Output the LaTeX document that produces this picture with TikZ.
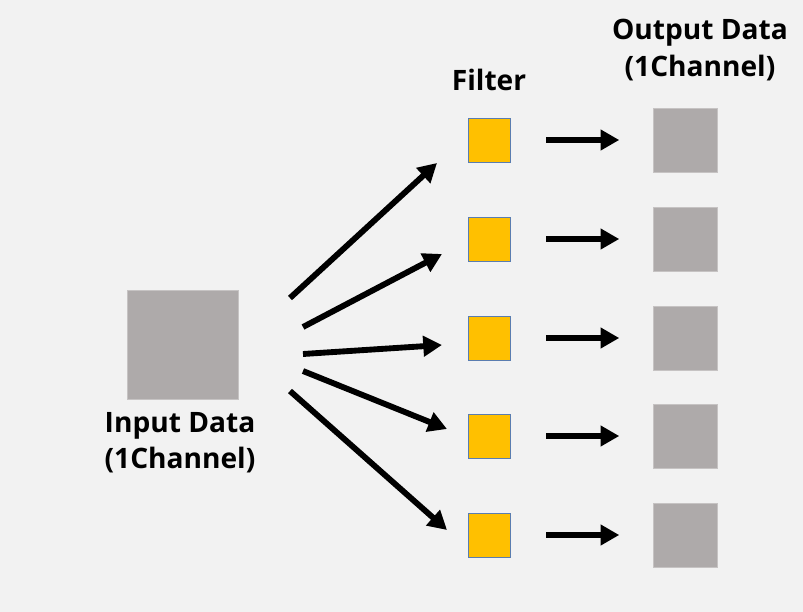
\documentclass[tikz,border=0pt]{standalone}
\usepackage{fontspec}
\setmainfont{Open Sans}
\usetikzlibrary{arrows.meta,positioning}
\definecolor{bgray}{HTML}{F2F2F2}
\definecolor{dgray}{HTML}{AEAAAA}
\definecolor{fyellow}{HTML}{FFC000}
\definecolor{fblue}{HTML}{5A7DB0}

\begin{document}
\begin{tikzpicture}[x=0.03cm,y=-0.03cm,
  datbox/.style={fill=dgray,draw=dgray!70!white,thin,inner sep=0pt,minimum width=#1,minimum height=#1},
  datbox/.default=1.92cm,
  filbox/.style={fill=fyellow,draw=fblue,line width=0.8pt,inner sep=0pt,
    minimum width=1.26cm,minimum height=1.32cm},
  lbl/.style={font=\bfseries\fontsize{24}{31}\selectfont,align=center,inner sep=0pt},
  arr/.style={line width=5pt,-{Triangle[length=16pt,width=17pt]}},
  node distance=0.3em]

 % background
 \fill[bgray] (0,0) rectangle (803,612);

 \node[datbox,minimum width=3.33cm,minimum height=3.27cm] (in) at (182.5,344.5) {};
 \node[lbl] (inl) at (180,443) {Input Data\\(1Channel)};

 \foreach \i/\y in {1/140,2/239,3/338,4/436,5/535}{
   \node[filbox] (f\i) at (489,\y) {};
   \node[datbox] (o\i) at (685.5,\y) {};
   \draw[arr,shorten <=1.08cm,shorten >=1.02cm] (f\i.east) -- (o\i.west);
 }

 \node[lbl] (fl) at (489,80) {Filter};
 \node[lbl] (ol) at (700,50) {Output Data\\(1Channel)};

 % fan out
 \coordinate (s1) at (290,298);  \coordinate (t1) at (437,163);
 \coordinate (s2) at (303,327);  \coordinate (t2) at (442,254);
 \coordinate (s3) at (303,354);  \coordinate (t3) at (442,345);
 \coordinate (s4) at (303,371);  \coordinate (t4) at (447,429);
 \coordinate (s5) at (290,391);  \coordinate (t5) at (447,530);
 \foreach \i in {1,...,5}
   \draw[arr] (s\i) -- (t\i);

\end{tikzpicture}
\end{document}
